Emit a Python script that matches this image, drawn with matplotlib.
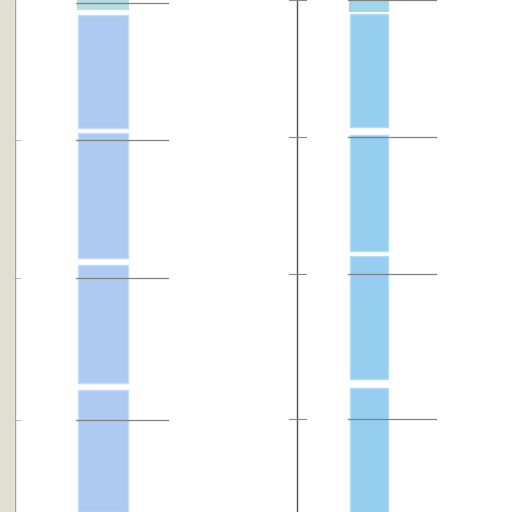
import numpy as np
import matplotlib
matplotlib.use("Agg")
import matplotlib.pyplot as plt

## Data (in picture units)

# left column: segment tops and bottoms
left_tops = [15, 133, 265, 390]
left_bottoms = [128, 258, 383, 512]
# right column
right_tops = [14, 135, 256, 388]
right_bottoms = [127, 251, 379, 512]

left_grid = [3, 140, 278, 420]
right_grid = [0, 137, 274, 419]


def main():
    fig = plt.figure(figsize=(5.12, 5.12), dpi=100)
    ax = fig.add_axes([0, 0, 1, 1])
    ax.set_xlim(0, 512)
    ax.set_ylim(512, 0)
    ax.axis("off")

    # grey strip on the left
    ax.axvspan(0, 13, color="#dfdfd2", zorder=0)
    ax.axvline(14.5, color="#a0a098", lw=1.0, zorder=1)

    # vertical axis line in the middle
    ax.axvline(297, color="#505050", lw=1.0, zorder=1)

    # caps at top
    ax.bar(103, 10, bottom=0, width=52, color="#b6dde2", zorder=2)
    ax.bar(369, 12, bottom=0, width=40, color="#a0d6ec", zorder=2)

    # columns
    h_left = np.array(left_bottoms) - np.array(left_tops)
    ax.bar([103] * 4, h_left, bottom=left_tops, width=50,
           color="#aecaf2", edgecolor="#c4dcf6", lw=1, zorder=2)
    h_right = np.array(right_bottoms) - np.array(right_tops)
    ax.bar([369] * 4, h_right, bottom=right_tops, width=38,
           color="#95cef0", edgecolor="#b0dcf4", lw=1, zorder=2)

    # short grid segments
    for y in left_grid:
        ax.plot([76, 168], [y, y], color="#808080", lw=0.9, zorder=3)
    for y in right_grid:
        ax.plot([348, 436], [y, y], color="#808080", lw=0.9, zorder=3)
        ax.plot([289, 306], [y, y], color="#888888", lw=0.8, zorder=3)
    for y in left_grid[1:]:
        ax.plot([14, 20], [y, y], color="#aaaaaa", lw=0.6, zorder=3)

    fig.savefig("out.png", dpi=100)


if __name__ == "__main__":
    main()
